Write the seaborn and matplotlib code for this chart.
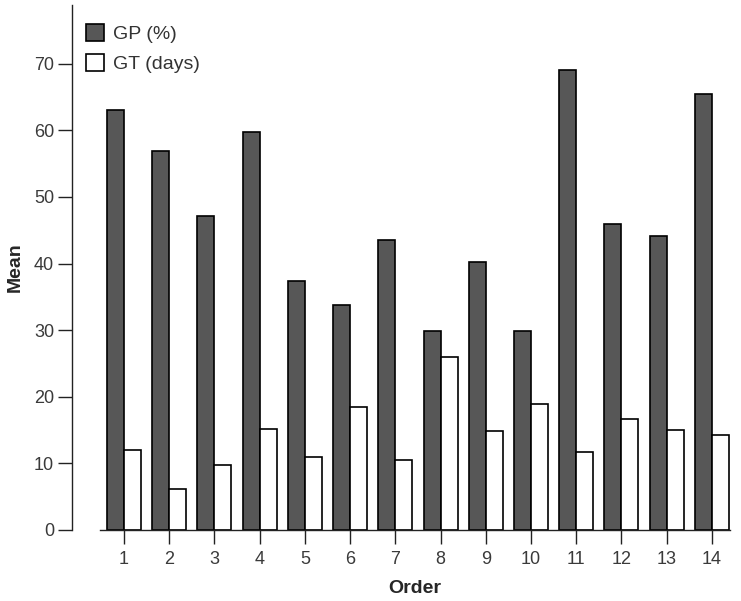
import pandas as pd
import matplotlib
matplotlib.use('Agg')
import matplotlib.pyplot as plt
import seaborn as sns

# values
orders = ['1', '2', '3', '4', '5', '6', '7', '8', '9', '10', '11', '12', '13', '14']
gp_mean = [63.1, 56.9, 47.2, 59.8, 37.4, 33.8, 43.6, 29.9, 40.3, 29.9, 69.1, 45.9, 44.1, 65.5]
gt_mean = [12.0, 6.1, 9.8, 15.2, 10.9, 18.4, 10.5, 26.0, 14.9, 18.9, 11.7, 16.6, 15.0, 14.3]
series = ['GP (%)', 'GT (days)']

df = pd.DataFrame({
    'Order': orders * 2,
    'Mean': gp_mean + gt_mean,
    'var': [series[0]] * len(orders) + [series[1]] * len(orders),
})

sns.set_style('white')
plt.rcParams['font.family'] = ['Liberation Sans', 'DejaVu Sans']

fig = plt.figure(figsize=(7.41, 6.01), dpi=100)
ax = fig.add_axes([100 / 741, 71 / 601, 630 / 741, 525 / 601])

sns.barplot(data=df, x='Order', y='Mean', hue='var', order=orders,
            palette=['#575757', 'white'], edgecolor='black', linewidth=1.2,
            width=0.75, saturation=1, ax=ax)

ax.set_xlim(-0.53, 13.4)
ax.set_ylim(0, 78.8)
ax.set_yticks([0, 10, 20, 30, 40, 50, 60, 70])

for s in ['top', 'right']:
    ax.spines[s].set_visible(False)
ax.spines['left'].set_position(('outward', 20))
for s in ['left', 'bottom']:
    ax.spines[s].set_color('#222222')
    ax.spines[s].set_linewidth(1.0)

ax.tick_params(axis='both', direction='out', length=10, width=1.0,
               color='#222222', labelsize=13, labelcolor='#3a3a3a')
ax.tick_params(axis='y', left=True, pad=3)
ax.tick_params(axis='x', bottom=True, pad=5)

ax.set_xlabel('Order', fontsize=14, fontweight='bold', labelpad=9)
ax.set_ylabel('Mean', fontsize=14, fontweight='bold', labelpad=7)

leg = ax.legend(loc='upper left', bbox_to_anchor=(86 / 741, 1 - 24 / 601),
                bbox_transform=fig.transFigure, frameon=False,
                fontsize=14, handlelength=0.95, handleheight=0.95,
                handletextpad=0.45, labelspacing=0.55, borderaxespad=0,
                borderpad=0)
for t in leg.get_texts():
    t.set_color('#333333')

fig.savefig('out.png', dpi=100)
